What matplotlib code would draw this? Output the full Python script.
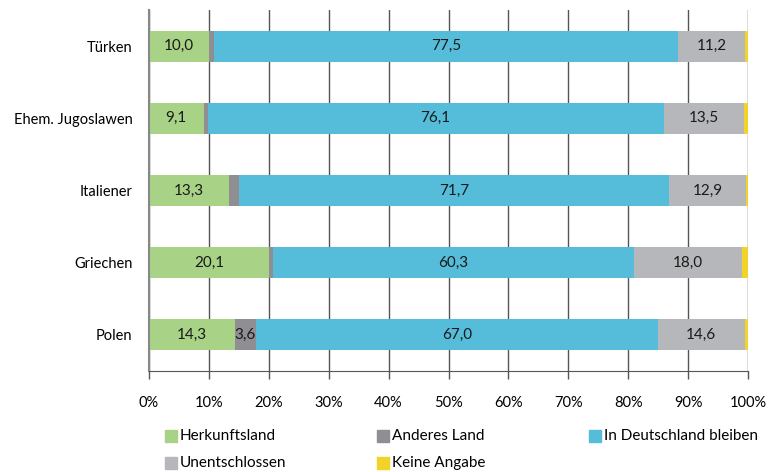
import numpy as np
import matplotlib.pyplot as plt
from matplotlib.patches import Rectangle

plt.rcParams['font.family'] = ['Lato', 'DejaVu Sans']

# Data (percent), top to bottom
groups = ['Türken', 'Ehem. Jugoslawen', 'Italiener', 'Griechen', 'Polen']
herkunftsland = [10.0, 9.1, 13.3, 20.1, 14.3]
anderes_land = [0.8, 0.7, 1.8, 0.6, 3.6]
deutschland = [77.5, 76.1, 71.7, 60.3, 67.0]
unentschlossen = [11.2, 13.5, 12.9, 18.0, 14.6]
keine_angabe = [0.5, 0.6, 0.3, 1.0, 0.5]

series = [herkunftsland, anderes_land, deutschland, unentschlossen, keine_angabe]
names = ['Herkunftsland', 'Anderes Land', 'In Deutschland bleiben',
         'Unentschlossen', 'Keine Angabe']
colors = ['#a8d386', '#8e8e93', '#55bcd9', '#b6b7ba', '#f2d32a']

fig = plt.figure(figsize=(7.7, 4.72), dpi=100)
ax = fig.add_axes([149/770, 1 - 371/472, (748-149)/770, (371-10)/472])

y = np.arange(len(groups))[::-1]
left = np.zeros(len(groups))
for vals, col in zip(series, colors):
    vals = np.array(vals)
    ax.barh(y, vals, left=left, height=0.43, color=col, zorder=2)
    for yi, l, v in zip(y, left, vals):
        if v >= 3:
            ax.text(l + v / 2, yi, f'{v:.1f}'.replace('.', ','),
                    ha='center', va='center', fontsize=11, color='#1a1a1a', zorder=3)
    left += vals

ax.set_xlim(0, 100)
ax.set_ylim(-0.5, 4.5)
ax.set_xticks(np.arange(0, 101, 10))
ax.set_xticklabels([f'{t}%' for t in range(0, 101, 10)], fontsize=10.5)
ax.set_yticks(y)
ax.set_yticklabels(groups, fontsize=10.5)
ax.tick_params(axis='y', length=0, pad=12)
ax.tick_params(axis='x', length=6, width=1, color='#555555', pad=12)
ax.grid(axis='x', color='#555555', linewidth=1, zorder=0)
for s in ['top', 'right']:
    ax.spines[s].set_visible(False)
ax.spines['left'].set_color('#888888')
ax.spines['left'].set_linewidth(1.5)
ax.spines['bottom'].set_color('#555555')

# Legend, drawn by hand
leg_x = [165, 377, 589, 165, 377]
leg_y = [436, 436, 436, 463, 463]
for name, col, lx, ly in zip(names, colors, leg_x, leg_y):
    fig.patches.append(Rectangle((lx/770, 1 - (ly + 6)/472), 12/770, 12/472,
                                 transform=fig.transFigure, color=col))
    fig.text((lx + 15)/770, 1 - ly/472, name, fontsize=11, va='center', ha='left')

fig.savefig('out.png', dpi=100)
